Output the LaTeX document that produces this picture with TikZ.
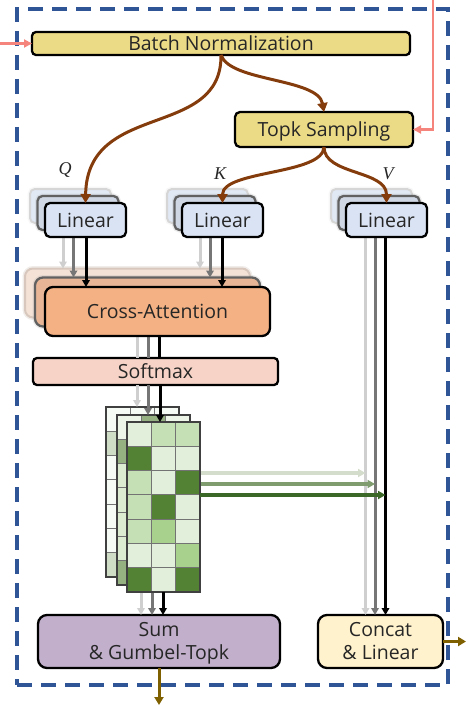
\documentclass[tikz,border=0pt]{standalone}
\usepackage{fontspec}
\newfontfamily\labfont{Open Sans}
\newfontfamily\qkvfont{Liberation Serif}
\usetikzlibrary{arrows.meta,calc}

\definecolor{txt}{HTML}{262626}
\definecolor{bnfill}{HTML}{ECDB86}
\definecolor{linfill}{HTML}{DAE3F3}
\definecolor{linmid}{HTML}{CFD7E5}
\definecolor{cafill}{HTML}{F4B183}
\definecolor{camid}{HTML}{E8B696}
\definecolor{cabackc}{HTML}{F4E2D6}
\definecolor{smfill}{HTML}{F6D3C6}
\definecolor{sumfill}{HTML}{C1AFCB}
\definecolor{ccfill}{HTML}{FFF2CC}
\definecolor{curvec}{HTML}{843C0C}
\definecolor{outc}{HTML}{7F6000}
\definecolor{pinkc}{HTML}{F4847C}
\definecolor{framec}{HTML}{2F5597}
\definecolor{mL}{HTML}{E2EFDA}
\definecolor{mM}{HTML}{C5E0B4}
\definecolor{mA}{HTML}{A9D18E}
\definecolor{mD}{HTML}{548235}
\definecolor{flowa}{HTML}{CFCFCF}
\definecolor{flowb}{HTML}{767676}
\definecolor{flowc}{HTML}{000000}
\definecolor{hza}{HTML}{D4DCCC}
\definecolor{hzb}{HTML}{7F9C6E}
\definecolor{hzc}{HTML}{3C6827}

% one stacked heat-map layer: left x, top y, tint percent, 7x3 pattern
\newcommand\drawheat[4]{%
  \foreach \row [count=\r] in {#4}{%
    \foreach \c [count=\k] in \row{%
      \edef\heatcol{m\c!#3!white}%
      \fill[fill=\heatcol] ({#1+(\k-1)*24.333},{#2+(\r-1)*24.286}) rectangle ++(24.333,24.286);
    }%
  }%
  \foreach \k in {1,2} \draw[heatgrid] ({#1+\k*24.333},#2) -- ++(0,170);
  \foreach \r in {1,...,6} \draw[heatgrid] (#1,{#2+\r*24.286}) -- ++(73,0);
  \draw[heatedge] (#1,#2) rectangle ++(73,170);
}

\begin{document}
\begin{tikzpicture}[x=1pt,y=-1pt,
  box/.style={draw=black, line width=2.3pt, inner sep=0pt, outer sep=0pt, text=txt,
    font=\labfont\fontsize{19.5}{21}\selectfont, text height=14pt, text depth=0pt},
  lab/.style={inner sep=0pt, outer sep=0pt, text=txt, anchor=base,
    font=\labfont\fontsize{19.5}{21}\selectfont},
  qkv/.style={inner sep=0pt, font=\qkvfont\itshape\fontsize{18}{18}\selectfont, text=txt},
  frame/.style={draw=framec, line width=4pt, dash pattern=on 15pt off 9pt, inner sep=0pt, outer sep=0pt},
  soft/.style={preaction={draw=#1, line width=5pt, draw opacity=0.25}},
  linback/.style={box, fill=linfill!80!white, draw=black!16, line width=2pt, rounded corners=5pt,
    minimum width=81, minimum height=34, soft=black!12},
  linmidl/.style={box, fill=linmid, draw=black!62, line width=2.3pt, rounded corners=5pt,
    minimum width=81, minimum height=34, soft=black!30},
  linfront/.style={box, fill=linfill, rounded corners=5pt, minimum width=81, minimum height=34},
  caback/.style={box, fill=cabackc, draw=cabackc!88!black, line width=2pt, rounded corners=8pt,
    minimum width=225, minimum height=49, soft=cabackc!80!black},
  camidl/.style={box, fill=camid, draw=black!62, line width=2.3pt, rounded corners=8pt,
    minimum width=225, minimum height=49, soft=black!30},
  cafront/.style={box, fill=cafill, rounded corners=8pt, minimum width=225, minimum height=49},
  heatbox/.style={draw=none, inner sep=0pt, outer sep=0pt, minimum width=73, minimum height=170},
  heatgrid/.style={draw=black!55, line width=0.9pt},
  heatedge/.style={draw=black!75, line width=1.6pt},
  tipg/.style={-{Triangle[length=7pt,width=7.5pt]}},
  fla/.style={draw=flowa, line width=3pt},
  flb/.style={draw=flowb, line width=3pt},
  flc/.style={draw=flowc, line width=3pt},
  hz/.style={line width=3.6pt, -{Triangle[length=7.5pt,width=8pt]}},
  brownarr/.style={draw=curvec, line width=3pt, -{Triangle[length=9pt,width=10pt]}},
  pinkarr/.style={draw=pinkc, line width=2.6pt, -{Triangle[length=8pt,width=8pt]}},
  outarr/.style={draw=outc, line width=3pt, -{Triangle[length=8pt,width=9pt]}}
]
\useasboundingbox (0,0) rectangle (467,706);

% dashed module frame
\node[frame, minimum width=431, minimum height=676] (frm) at (232.5,347) {};

% input blocks
\node[box, fill=bnfill, rounded corners=4pt, minimum width=378, minimum height=23] (bn) at (221,43.5) {Batch Normalization};
\node[box, fill=bnfill, rounded corners=5pt, minimum width=178, minimum height=35] (topk) at (324,129.5) {Topk Sampling};

\coordinate (pinkin) at (433,-2);
\draw[pinkarr] (pinkin) |- (topk.east);
\coordinate (pinkleft) at (-2,43.5);
\draw[pinkarr] (pinkleft) -- (bn.west);

% single blocks
\node[box, fill=smfill, rounded corners=4pt, minimum width=245, minimum height=27] (sm) at (155.5,371.5) {Softmax};
\node[box, fill=sumfill, rounded corners=9pt, minimum width=242, minimum height=53] (sum) at (159,641.5) {};
\node[lab] (sumt1) at (159,636.7) {Sum};
\node[lab] (sumt2) at (159,659.3) {\& Gumbel-Topk};
\node[box, fill=ccfill, rounded corners=9pt, minimum width=125, minimum height=53] (cc) at (380.5,641.5) {};
\node[lab] (cct1) at (380.5,636.7) {Concat};
\node[lab] (cct2) at (380.5,659.3) {\& Linear};

% Q K V labels
\node[qkv] (lq) at (65,170) {Q};
\node[qkv] (lk) at (220,174) {K};
\node[qkv] (lv) at (388,174) {V};

% ---------- rear layer ----------
\node[linback] (ql1) at (70.5,206) {};
\node[linback] (kl1) at (207.5,206) {};
\node[linback] (vl1) at (371.5,206) {};
\node[caback] (ca1) at (137.5,293) {};
\node[heatbox] (hm1) at (142.5,492) {};
\drawheat{106}{407}{28}{{L,L,L},{D,L,M},{L,M,L},{L,L,D},{L,M,L},{L,L,L},{D,L,L}}

\coordinate (qa) at ($(ql1.south)+(-7.5,0)$);
\coordinate (ka) at ($(kl1.south)+(-7.5,0)$);
\coordinate (va) at ($(vl1.south)+(-6,0)$);
\coordinate (ca) at ($(ca1.south)+(-0.5,0)$);
\coordinate (sa) at ($(hm1.north)+(-5.5,0)$);
\coordinate (ma) at ($(hm1.south)+(-1.5,0)$);
\coordinate (ha) at ($(hm1.east)+(0,-19)$);
\draw[fla, tipg] (qa) -- (qa |- ca1.north);
\draw[fla, tipg] (ka) -- (ka |- ca1.north);
\draw[fla, tipg] (va) -- (va |- cc.north);
\draw[fla] (ca) -- (ca |- sm.north);
\draw[fla, tipg] (sa |- sm.south) -- (sa);
\draw[fla, tipg] (ma) -- (ma |- sum.north);
\draw[hz, draw=hza] (ha) -- (ha -| va);

% ---------- middle layer ----------
\node[linmidl] (ql2) at (78,213) {};
\node[linmidl] (kl2) at (215,213) {};
\node[linmidl] (vl2) at (379,213) {};
\node[camidl] (ca2) at (147.5,302) {};
\node[heatbox] (hm2) at (153.5,500) {};
\drawheat{117}{415}{62}{{L,D,L},{D,M,L},{M,L,L},{M,L,D},{M,L,L},{M,A,L},{D,L,M}}

\coordinate (qb) at ($(ql2.south)+(-4.5,0)$);
\coordinate (kb) at ($(kl2.south)+(-5,0)$);
\coordinate (vb) at ($(vl2.south)+(-4,0)$);
\coordinate (cb) at ($(ca2.south)+(0.5,0)$);
\coordinate (sb) at ($(hm2.north)+(-5.5,0)$);
\coordinate (mb) at ($(hm2.south)+(-1.5,0)$);
\coordinate (hb) at ($(hm2.east)+(0,-16)$);
\draw[flb, tipg] (qb) -- (qb |- ca2.north);
\draw[flb, tipg] (kb) -- (kb |- ca2.north);
\draw[flb, tipg] (vb) -- (vb |- cc.north);
\draw[flb] (cb) -- (cb |- sm.north);
\draw[flb, tipg] (sb |- sm.south) -- (sb);
\draw[flb, tipg] (mb) -- (mb |- sum.north);
\draw[hz, draw=hzb] (hb) -- (hb -| vb);

% ---------- front layer ----------
\node[linfront] (ql3) at (85.5,220) {Linear};
\node[linfront] (kl3) at (222.5,220) {Linear};
\node[linfront] (vl3) at (386.5,220) {Linear};
\node[cafront] (ca3) at (157.5,311.5) {Cross-Attention};
\node[heatbox] (hm3) at (163.5,507) {};
\drawheat{127}{422}{100}{{L,M,M},{D,L,L},{M,L,D},{M,D,L},{M,A,L},{L,L,A},{D,L,D}}

\coordinate (qc) at ($(ql3.south)+(0.5,0)$);
\coordinate (kc) at ($(kl3.south)+(-0.5,0)$);
\coordinate (vc) at ($(vl3.south)+(-1,0)$);
\coordinate (cx) at ($(ca3.south)+(2,0)$);
\coordinate (sc) at ($(hm3.north)+(-3.5,0)$);
\coordinate (mc) at ($(hm3.south)+(-0.5,0)$);
\coordinate (hc) at ($(hm3.east)+(0,-12)$);
\draw[flc, tipg] (qc) -- (qc |- ca3.north);
\draw[flc, tipg] (kc) -- (kc |- ca3.north);
\draw[flc, tipg] (vc) -- (vc |- cc.north);
\draw[flc] (cx) -- (cx |- sm.north);
\draw[flc, tipg] (sc |- sm.south) -- (sc);
\draw[flc, tipg] (mc) -- (mc |- sum.north);
\draw[hz, draw=hzc] (hc) -- (hc -| vc);

% query / key / value routing
\draw[brownarr] (bn.south) .. controls +(9,27) and +(-6,-34) .. (topk.north);
\draw[brownarr] (bn.south) .. controls +(1,85) and +(1.5,-103) .. (ql3.north);
\draw[brownarr] (topk.south) .. controls +(-1,28) and +(0,-33) .. (kl3.north);
\draw[brownarr] (topk.south) .. controls +(0,28) and +(0,-33) .. (vl3.north);

% outputs
\draw[outarr] (sum.south) -- ++(0,37);
\draw[outarr] (cc.east) -- ++(23,0);
\end{tikzpicture}
\end{document}
